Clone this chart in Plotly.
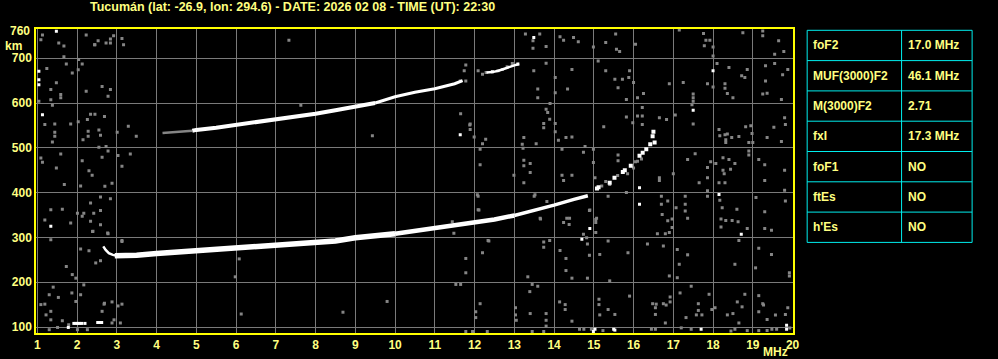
import plotly.graph_objects as go

# ---------------- data ----------------
title_text = "Tucumán (lat: -26.9, lon: 294.6) - DATE: 2026 02 08 - TIME (UT): 22:30"
x_ticks = list(range(1, 21))
y_ticks = [100, 200, 300, 400, 500, 600, 700]

param_names = ["foF2", "MUF(3000)F2", "M(3000)F2", "fxI", "foF1", "ftEs", "h'Es"]
param_values = ["17.0 MHz", "46.1 MHz", "2.71", "17.3 MHz", "NO", "NO", "NO"]

# F2 ordinary trace (lower), MHz / km
f_lo_hook = [2.66, 2.72, 2.8, 2.9, 3.0]
h_lo_hook = [280, 272, 265, 261, 259]
f_lo_a = [2.95, 3.0, 3.5, 4.0, 4.5, 5.0, 5.5, 6.0, 6.5, 7.0, 7.5, 8.0, 8.5, 9.0, 9.5, 10.0]
h_lo_a = [259, 259, 260, 264, 267, 270, 272, 274, 277, 281, 283, 286, 292, 299, 303, 308]
f_lo_b = [10.0, 10.5, 11.0, 11.5, 12.0, 12.5, 13.0]
h_lo_b = [308, 314, 321, 327, 333, 340, 349]
f_lo_c = [13.0, 13.5, 14.0, 14.5, 14.85]
h_lo_c = [349, 360, 372, 385, 393]
f_lo_tail = [15.08, 15.12, 15.4, 15.52, 15.73, 15.78, 15.93, 16.15, 16.23, 16.32, 16.42, 16.48, 16.5, 16.53]
h_lo_tail = [409, 412, 422, 433, 446, 450, 460, 482, 489, 497, 508, 526, 536, 512]

# second-hop trace (upper)
f_up_faint = [4.15, 4.5, 4.9]
h_up_faint = [533, 535, 538]
f_up_a = [4.9, 5.0, 5.5, 6.0, 6.5, 7.0, 7.5, 8.0, 8.5, 9.0, 9.5]
h_up_a = [538, 540, 545, 551, 556, 562, 569, 576, 584, 592, 600]
f_up_b = [9.5, 10.0, 10.5, 11.0, 11.5, 11.7]
h_up_b = [600, 614, 624, 632, 643, 650]
f_up_c = [12.3, 12.45, 12.6, 12.75, 12.85, 13.0, 13.12]
h_up_c = [668, 669, 672, 677, 680, 684, 687]

# scattered noise echoes (grey)
noise_f = [1.13, 1.09, 1.54, 1.67, 2.23, 2.53, 2.44, 2.92, 2.84, 3.17, 1.67, 1.73, 2.04, 2.13, 1.24,
           1.48, 1.59, 1.59, 1.34, 1.88, 2.03, 2.23, 2.63, 2.84, 2.78, 1.34, 1.04, 1.38, 1.19, 1.44,
           1.84, 1.44, 1.44, 1.38, 2.03, 2.26, 2.34, 2.45, 2.69, 2.28, 2.28, 2.15, 2.55, 2.59, 3.01,
           3.29, 3.49, 2.73, 2.78, 2.55, 3.03, 3.34, 1.09, 1.13, 1.59, 2.13, 2.3, 2.38, 1.48, 2.63,
           3.13, 1.68, 2.09, 2.7, 2.88, 2.59, 2.84, 2.34, 1.34, 1.63, 2.01, 2.17, 2.42, 2.59, 2.13,
           1.19, 1.84, 2.34, 2.4, 2.59, 2.78, 1.34, 2.09, 2.3, 2.47, 2.59, 3.13, 1.73, 1.88, 1.97,
           2.17, 1.4, 1.19, 1.09, 1.3, 1.53, 1.87, 2.09, 1.97, 2.68, 2.88, 2.63, 1.34, 1.22, 1.34,
           1.63, 2.93, 2.88, 1.51, 1.3, 2.01, 2.26, 3.09, 1.79, 2.45, 2.73, 2.84, 3.13, 7.33, 6.13,
           8.69, 9.8, 3.03, 3.13, 2.69, 3.13, 6.08, 5.98, 2.39, 2.77, 7.63, 9.43, 11.88,
           12.07, 12.11, 13.52, 13.82, 11.44, 11.48, 12.36, 13.66, 14.32, 14.38, 14.9, 15.07,
           15.55, 15.3, 15.57, 15.65, 16.05, 17.15, 17.76, 17.82, 17.92, 18.0, 18.0, 17.78, 18.75,
           19.25, 19.25, 19.55, 19.65, 19.78, 15.11, 15.3, 15.9, 15.88, 16.0, 15.53, 15.72, 15.61,
           15.82, 16.1, 16.25, 16.9, 17.25, 17.5, 17.5, 17.5, 17.86, 18.0, 18.1, 18.3, 18.3, 18.36,
           18.4, 18.5, 18.72, 18.8, 18.86, 19.25, 19.32, 19.36, 19.55, 19.32, 19.75, 19.88, 19.72,
           16.22, 16.22, 16.1, 16.22, 15.98, 15.82, 15.25, 16.65, 16.83, 17.05, 17.5, 17.47, 18.15,
           18.17, 18.3, 18.36, 18.47, 18.65, 18.32, 18.32, 18.82, 18.95, 18.9, 19.0, 18.98, 19.36,
           19.53, 19.72, 19.8, 19.82, 15.61, 15.61, 16.05, 16.65, 16.65, 17.0, 17.36, 17.55, 17.86,
           17.86, 17.94, 18.07, 18.25, 18.25, 18.4, 18.55, 18.44, 18.28, 18.15, 18.3, 18.9, 18.9,
           19.15, 19.3, 19.3, 19.8, 19.8, 17.65, 17.86, 15.03, 15.82, 15.36, 16.7, 16.7, 16.72,
           16.86, 16.86, 16.97, 16.97, 16.9, 16.8, 16.6, 17.3, 17.3, 17.3, 17.36, 17.07, 17.86,
           18.17, 18.23, 18.2, 18.2, 18.32, 18.48, 18.63, 18.86, 18.6, 19.08, 19.3, 19.3, 19.47,
           19.82, 15.05, 15.05, 15.05, 15.36, 15.15, 15.86, 16.35, 16.75, 17.1, 17.15, 17.36, 17.1,
           16.9, 18.65, 18.55, 19.07, 19.15, 19.47, 19.92, 19.92, 15.4, 15.13, 15.13, 15.36, 15.53,
           15.15, 15.9, 16.48, 16.55, 16.55, 16.75, 16.92, 16.92, 16.8, 17.17, 17.45, 17.32, 17.63,
           17.63, 17.72, 17.58, 17.9, 17.97, 18.05, 18.36, 18.5, 18.61, 18.65, 18.8, 19.15, 19.25,
           19.15, 19.36, 19.57, 19.82, 19.88, 15.23, 16.45, 16.55, 17.2, 17.45, 18.45, 18.55, 18.86,
           19.15, 19.36, 19.48, 19.6, 19.93, 16.57, 16.82, 18.73, 19.27,
           13.28, 13.47, 13.64, 13.47, 13.8, 14.15, 14.24, 14.49, 14.61, 14.99, 11.78, 11.74, 11.64,
           11.78, 12.09, 12.2, 12.29, 12.59, 12.7, 12.82, 12.95, 13.49, 13.8, 14.03, 14.03, 14.45,
           14.34, 13.59, 13.59, 11.65, 11.89, 11.89, 11.99, 12.28, 12.2, 12.14, 13.24, 13.2, 13.22,
           13.55, 13.74, 13.74, 13.8, 13.84, 13.89, 13.9, 14.03, 14.03, 14.11, 14.3, 14.45, 14.2,
           14.78, 14.74, 14.99, 14.99, 13.24, 13.24, 13.4, 13.4, 13.24, 12.99, 12.14, 14.2, 14.24,
           14.45, 12.09, 12.09, 13.5, 13.65, 14.39, 14.89, 14.82, 14.84, 14.74, 14.89, 14.84, 14.45,
           14.3, 14.3, 14.15, 14.24, 13.74, 13.74, 13.89, 12.34, 12.2, 11.78, 11.78, 11.53, 11.65,
           12.14, 12.03, 12.03, 12.32, 11.78, 11.95, 13.03, 13.03, 13.05, 13.39, 13.45, 13.59, 13.4,
           13.8, 13.8, 13.8, 13.45, 13.74, 13.34, 14.14, 14.28, 14.28, 14.45, 14.64, 14.75, 14.94,
           15.4, 15.3, 15.2, 15.6, 15.85, 16.0, 16.1, 16.2]
noise_h = [752, 741, 734, 727, 752, 739, 730, 750, 734, 730, 703, 687, 697, 687, 677,
           645, 619, 612, 630, 667, 674, 626, 637, 630, 615, 607, 604, 595, 552, 553,
           553, 535, 526, 513, 558, 563, 575, 575, 570, 537, 526, 518, 540, 528, 535,
           548, 526, 503, 493, 501, 483, 486, 477, 468, 486, 471, 449, 439, 455, 479,
           459, 418, 415, 414, 421, 390, 386, 377, 362, 363, 354, 354, 354, 360, 347,
           339, 332, 336, 314, 328, 308, 295, 274, 270, 243, 248, 291, 235, 217, 209,
           194, 189, 151, 150, 172, 166, 176, 172, 157, 151, 156, 135, 135, 127, 116,
           114, 116, 109, 99, 94, 94, 94, 109, 105, 730, 734, 743, 744, 740, 129,
           133, 157, 147, 151, 153, 293, 252, 212, 313, 310, 595, 527, 551,
           395, 361, 395, 380, 335, 309, 292, 341, 343, 329, 361, 343,
           754, 735, 720, 715, 731, 763, 755, 740, 740, 725, 705, 728, 757,
           761, 750, 709, 739, 715, 694, 672, 672, 657, 646, 653, 653, 634,
           608, 612, 621, 643, 646, 612, 604, 620, 643, 636, 688, 643, 633, 621,
           679, 612, 661, 657, 675, 620, 649, 622, 688, 683, 663, 675, 608,
           590, 571, 571, 552, 556, 569, 547, 567, 563, 573, 553, 596, 541,
           527, 529, 531, 523, 525, 512, 518, 547, 549, 512, 512, 532, 523,
           546, 514, 567, 552, 484, 471, 469, 433, 427, 442, 474, 487, 456,
           433, 469, 465, 478, 450, 474, 465, 452, 442, 422, 422, 484, 493,
           474, 462, 427, 450, 405, 422, 404, 433, 400, 392, 392, 374, 351,
           381, 337, 341, 322, 311, 308, 308, 392, 374, 359, 343, 366, 392,
           383, 366, 341, 323, 338, 338, 335, 320, 363, 389, 357, 320, 316,
           381, 340, 333, 311, 292, 262, 266, 285, 281, 273, 240, 261, 210,
           214, 293, 240, 232, 276, 262, 221, 214, 203, 162, 150, 139, 128,
           127, 169, 152, 143, 128, 152, 167, 156, 109, 176, 191, 121, 152,
           137, 127, 127, 173, 139, 143, 127, 130, 156, 109, 173, 170, 152,
           134, 117, 127, 128, 143, 92, 95, 95, 98, 95, 91, 95, 92,
           92, 92, 95, 95, 98, 151, 149, 145, 149,
           754, 739, 754, 722, 726, 748, 740, 746, 737, 725, 685, 672, 649,
           649, 672, 664, 668, 672, 675, 681, 688, 672, 689, 657, 623, 675,
           631, 631, 612, 576, 553, 541, 524, 519, 509, 497, 523, 508, 499,
           509, 554, 545, 586, 579, 564, 599, 554, 536, 517, 523, 524, 497,
           503, 490, 497, 467, 472, 460, 465, 445, 422, 439, 462, 439, 427,
           439, 392, 362, 392, 343, 343, 360, 299, 285, 307, 260, 209, 209,
           253, 226, 271, 333, 290, 278, 293, 293, 266, 253, 221, 195, 195,
           152, 134, 121, 90, 90, 90, 143, 127, 115, 179, 195, 191, 130,
           130, 115, 102, 90, 90, 212, 156, 150, 139, 113, 95, 95, 95,
           418, 425, 415, 438, 442, 455, 470, 475]

# scattered strong echoes (white)
white_f = [1.48, 1.04, 1.04, 1.04, 1.13, 1.34, 1.92, 1.97, 2.02, 2.07, 2.12, 2.2, 2.52, 2.57, 2.62,
           1.78, 18.0, 17.5, 16.15, 16.15, 18.15, 18.71, 15.03, 15.5, 17.7, 19.85, 19.85, 13.49,
           12.45, 13.09, 11.64, 14.9, 14.7, 14.99, 15.53]
white_h = [760, 671, 652, 641, 574, 325, 108, 108, 108, 108, 108, 108, 110, 110, 110,
           99, 672, 584, 411, 374, 396, 307, 95, 95, 95, 104, 95, 746,
           670, 687, 529, 320, 296, 90, 93]

# ---------------- style / layout ----------------
BG = "black"
YEL = "#ffff00"
TXT = "#ffff80"
GRID = "#7a7a7a"
NOISE = "#858585"
CYAN = "#00eeee"
FONT = "Liberation Sans, Arial, sans-serif"

W, H = 998, 359
ML, MT, MB = 36, 29, 26
PLOT_RIGHT = 798


def xp(px):
    return (px - ML) / (W - ML)


def yp(py):
    return (H - MB - py) / (H - MT - MB)


fig = go.Figure()

fig.add_trace(go.Scatter(x=noise_f, y=noise_h, mode="markers",
                         marker=dict(symbol="square", size=3, color=NOISE, line=dict(width=0)),
                         hoverinfo="skip"))
fig.add_trace(go.Scatter(x=white_f, y=white_h, mode="markers",
                         marker=dict(symbol="square", size=3, color="white", line=dict(width=0)),
                         hoverinfo="skip"))

for fx, hy, wd, col in [(f_lo_hook, h_lo_hook, 2.5, "white"),
                        (f_lo_a, h_lo_a, 5.5, "white"), (f_lo_b, h_lo_b, 4.5, "white"),
                        (f_lo_c, h_lo_c, 3.5, "white"), (f_up_faint, h_up_faint, 2.5, NOISE),
                        (f_up_a, h_up_a, 4, "white"), (f_up_b, h_up_b, 3, "white"),
                        (f_up_c, h_up_c, 2.5, "white")]:
    fig.add_trace(go.Scatter(x=fx, y=hy, mode="lines", line=dict(color=col, width=wd),
                             hoverinfo="skip"))

fig.add_trace(go.Scatter(x=f_lo_tail, y=h_lo_tail, mode="markers",
                         marker=dict(symbol="square", size=4, color="white", line=dict(width=0)),
                         hoverinfo="skip"))

tickfont = dict(family=FONT, size=12, color=TXT, weight="bold")

fig.update_layout(
    width=W, height=H,
    margin=dict(l=ML, r=0, t=MT, b=MB, pad=0),
    paper_bgcolor=BG, plot_bgcolor=BG,
    showlegend=False,
    xaxis=dict(range=[0.9675, 20.0175], domain=[0, (PLOT_RIGHT - ML) / (W - ML)],
               tickvals=x_ticks, ticktext=[str(v) for v in x_ticks],
               showgrid=True, gridcolor=GRID, gridwidth=1, zeroline=False,
               showline=True, linecolor=YEL, linewidth=1.5, mirror=True,
               ticks="", tickfont=tickfont),
    yaxis=dict(range=[86.6, 765.2],
               tickvals=y_ticks, ticktext=[str(v) for v in y_ticks],
               showgrid=True, gridcolor=GRID, gridwidth=1, zeroline=False,
               showline=True, linecolor=YEL, linewidth=1.5, mirror=True,
               ticks="", tickfont=tickfont),
)

ann = []
ann.append(dict(text=title_text, x=xp(294), y=yp(7), xref="paper", yref="paper",
                xanchor="center", yanchor="middle", showarrow=False,
                font=dict(family=FONT, size=12.5, color=TXT, weight="bold")))
ann.append(dict(text="760", x=xp(32), y=yp(31), xref="paper", yref="paper",
                xanchor="right", yanchor="middle", showarrow=False, font=tickfont))
ann.append(dict(text="km", x=xp(13.5), y=yp(45.5), xref="paper", yref="paper",
                xanchor="center", yanchor="middle", showarrow=False, font=tickfont))
ann.append(dict(text="MHz", x=xp(780), y=yp(351.5), xref="paper", yref="paper",
                xanchor="center", yanchor="middle", showarrow=False, font=tickfont))

# parameter table
T_LEFT, T_MID, T_RIGHT = 812, 907, 978
T_TOP, ROW_H = 30.3, 30.3
n = len(param_names)
shapes = []
for k in range(n + 1):
    yy = yp(T_TOP + k * ROW_H)
    shapes.append(dict(type="line", xref="paper", yref="paper", x0=xp(T_LEFT), x1=xp(T_RIGHT),
                       y0=yy, y1=yy, line=dict(color=CYAN, width=1)))
for xx in (T_LEFT, T_MID, T_RIGHT):
    shapes.append(dict(type="line", xref="paper", yref="paper", x0=xp(xx), x1=xp(xx),
                       y0=yp(T_TOP), y1=yp(T_TOP + n * ROW_H), line=dict(color=CYAN, width=1)))
for i, (nm, val) in enumerate(zip(param_names, param_values)):
    yc = yp(T_TOP + (i + 0.5) * ROW_H)
    ann.append(dict(text=nm, x=xp(816), y=yc, xref="paper", yref="paper", xanchor="left",
                    yanchor="middle", showarrow=False, font=dict(family=FONT, size=12, color=TXT, weight="bold")))
    ann.append(dict(text=val, x=xp(911), y=yc, xref="paper", yref="paper", xanchor="left",
                    yanchor="middle", showarrow=False, font=dict(family=FONT, size=12, color=TXT, weight="bold")))

fig.update_layout(annotations=ann, shapes=shapes)

fig.write_html("out.html")
